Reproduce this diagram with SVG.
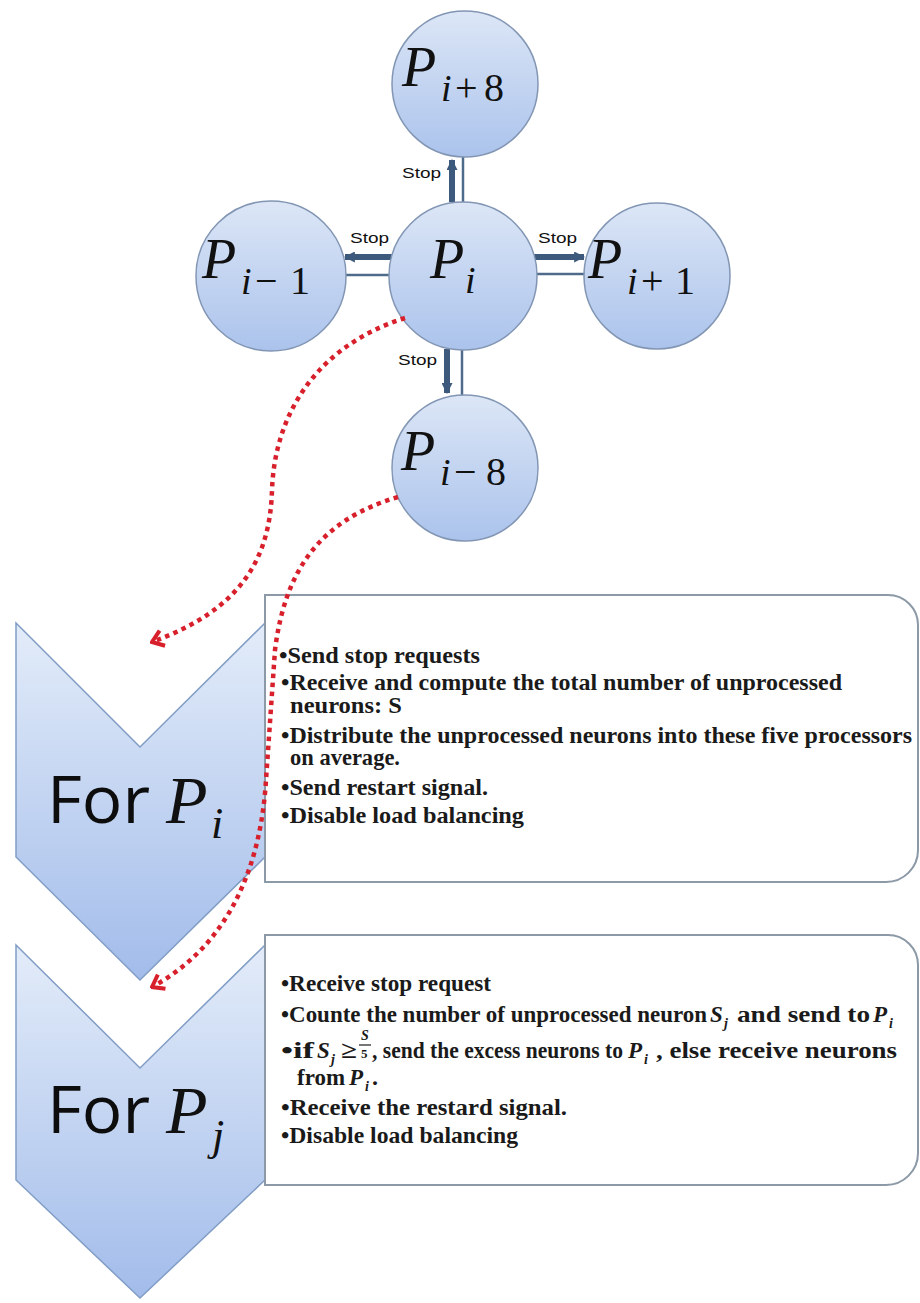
<svg xmlns="http://www.w3.org/2000/svg" width="920" height="1303" viewBox="0 0 920 1303">
<defs>
<linearGradient id="gc" x1="0" y1="0" x2="0" y2="1"><stop offset="0" stop-color="#dce6f6"/><stop offset="1" stop-color="#abc3ec"/></linearGradient>
<linearGradient id="gv" x1="0" y1="0" x2="0" y2="1"><stop offset="0" stop-color="#e3ecf9"/><stop offset="1" stop-color="#a2bcea"/></linearGradient>
<marker id="ah" viewBox="0 0 10 10" refX="9" refY="5" markerWidth="11" markerHeight="11" markerUnits="userSpaceOnUse" orient="auto"><path d="M0,0 L10,5 L0,10 z" fill="#3d5a7c"/></marker>
<marker id="rh" viewBox="-16 -12 18 24" refX="0" refY="0" markerWidth="18" markerHeight="24" markerUnits="userSpaceOnUse" orient="auto"><path d="M-11,-8 L0,0 L-11,8" fill="none" stroke="#d8202c" stroke-width="4" stroke-dasharray="none"/></marker>
</defs>
<style>
.circ{fill:url(#gc);stroke:#8296b4;stroke-width:1.5}
.chev{fill:url(#gv);stroke:#819dc5;stroke-width:1.5}
.box{fill:#fff;stroke:#8c99a6;stroke-width:2}
.m{font-family:"Liberation Serif",serif;font-style:italic;fill:#111}
.n{font-family:"Liberation Serif",serif;fill:#111}
.stop{font-family:"Liberation Sans",Arial,sans-serif;font-size:15px;fill:#111}
.thick{stroke:#3d5a7c;stroke-width:6;fill:none}
.thin{stroke:#4f6b8c;stroke-width:2.5;fill:none}
.t{font-family:"Liberation Serif",serif;font-weight:bold;font-size:24px;fill:#1a1a1a}
.tm{font-family:"Liberation Serif",serif;font-weight:bold;font-style:italic;fill:#1a1a1a}
.for{font-family:"Open Sans","Noto Sans",sans-serif;font-size:66px;fill:#0d0d0d}
.red{fill:none;stroke:#d8202c;stroke-width:4.5;stroke-dasharray:4.5 4.5}
</style>

<g id="chevron-pi">
<polygon class="chev" points="16,623 140,747 265,623 265,857 140,980 16,857"/>
<text class="for" x="47" y="823" textLength="103" lengthAdjust="spacingAndGlyphs">For</text>
<text class="m" x="166" y="823" font-size="68">P</text>
<text class="m" x="211" y="838" font-size="44">i</text>
</g>
<g id="chevron-pj">
<polygon class="chev" points="16,945 140,1068 265,945 265,1180 140,1298 16,1180"/>
<text class="for" x="47" y="1133" textLength="103" lengthAdjust="spacingAndGlyphs">For</text>
<text class="m" x="166" y="1133" font-size="68">P</text>
<text class="m" x="212" y="1150" font-size="44">j</text>
</g>

<g id="box-pi">
<path class="box" d="M265,595 H888 A30,30 0 0 1 918,625 V850 A32,32 0 0 1 886,882 H265 Z"/>
<text class="t" x="279" y="663" textLength="201" lengthAdjust="spacingAndGlyphs">•Send stop requests</text>
<text class="t" x="281" y="690" textLength="561" lengthAdjust="spacingAndGlyphs">•Receive and compute the total number of unprocessed</text>
<text class="t" x="290" y="713" textLength="112" lengthAdjust="spacingAndGlyphs">neurons: S</text>
<text class="t" x="281" y="743" textLength="631" lengthAdjust="spacingAndGlyphs">•Distribute the unprocessed neurons into these five processors</text>
<text class="t" x="290" y="765" textLength="110" lengthAdjust="spacingAndGlyphs">on average.</text>
<text class="t" x="281" y="795" textLength="207" lengthAdjust="spacingAndGlyphs">•Send restart signal.</text>
<text class="t" x="281" y="823" textLength="243" lengthAdjust="spacingAndGlyphs">•Disable load balancing</text>
</g>

<g id="box-pj">
<path class="box" d="M265,935 H888 A30,30 0 0 1 918,965 V1153 A32,32 0 0 1 886,1185 H265 Z"/>
<text class="t" x="281" y="991" textLength="210" lengthAdjust="spacingAndGlyphs">•Receive stop request</text>
<text class="t" x="281" y="1022" textLength="426" lengthAdjust="spacingAndGlyphs">•Counte the number of unprocessed neuron</text>
<text class="tm" x="710" y="1022" font-size="23">S</text>
<text class="tm" x="724" y="1028" font-size="14">j</text>
<text class="t" x="737" y="1022" textLength="133" lengthAdjust="spacingAndGlyphs">and send to</text>
<text class="tm" x="873" y="1022" font-size="23">P</text>
<text class="tm" x="889" y="1028" font-size="14">i</text>
<text class="t" x="281" y="1058" textLength="33" lengthAdjust="spacingAndGlyphs">•if</text>
<text class="tm" x="317" y="1058" font-size="23">S</text>
<text class="tm" x="331" y="1064" font-size="14">j</text>
<text class="t" x="341" y="1058" textLength="16" lengthAdjust="spacingAndGlyphs">≥</text>
<text class="tm" x="361" y="1040" font-size="14">S</text>
<line x1="359" y1="1045" x2="371" y2="1045" stroke="#1a1a1a" stroke-width="1.2"/>
<text class="t" x="361" y="1058" style="font-size:13px">5</text>
<text class="t" x="372" y="1058" textLength="251" lengthAdjust="spacingAndGlyphs">, send the excess neurons to</text>
<text class="tm" x="628" y="1058" font-size="23">P</text>
<text class="tm" x="644" y="1064" font-size="14">i</text>
<text class="t" x="656" y="1058" textLength="241" lengthAdjust="spacingAndGlyphs">, else receive neurons</text>
<text class="t" x="297" y="1085" textLength="48" lengthAdjust="spacingAndGlyphs">from</text>
<text class="tm" x="349" y="1085" font-size="23">P</text>
<text class="tm" x="365" y="1091" font-size="14">i</text>
<text class="t" x="372" y="1085">.</text>
<text class="t" x="281" y="1115" textLength="286" lengthAdjust="spacingAndGlyphs">•Receive the restard signal.</text>
<text class="t" x="281" y="1143" textLength="237" lengthAdjust="spacingAndGlyphs">•Disable load balancing</text>
</g>

<g id="connectors">
<line class="thin" x1="463" y1="156" x2="463" y2="203"/>
<line class="thick" x1="452" y1="202" x2="452" y2="160" marker-end="url(#ah)"/>
<line class="thin" x1="345" y1="275" x2="391" y2="275"/>
<line class="thick" x1="393" y1="257" x2="345" y2="257" marker-end="url(#ah)"/>
<line class="thin" x1="535" y1="274" x2="585" y2="274"/>
<line class="thick" x1="534" y1="257" x2="584" y2="257" marker-end="url(#ah)"/>
<line class="thin" x1="462" y1="349" x2="462" y2="396"/>
<line class="thick" x1="447" y1="349" x2="447" y2="393" marker-end="url(#ah)"/>
<text class="stop" x="402" y="178" textLength="39" lengthAdjust="spacingAndGlyphs">Stop</text>
<text class="stop" x="350" y="243" textLength="39" lengthAdjust="spacingAndGlyphs">Stop</text>
<text class="stop" x="538" y="243" textLength="39" lengthAdjust="spacingAndGlyphs">Stop</text>
<text class="stop" x="398" y="365" textLength="39" lengthAdjust="spacingAndGlyphs">Stop</text>
</g>

<g id="node-pi8">
<circle class="circ" cx="465" cy="84" r="73"/>
<text class="m" x="402" y="86" font-size="56">P</text>
<text class="m" x="441" y="101" font-size="38">i</text>
<text class="n" x="455" y="101" font-size="40">+</text>
<text class="n" x="484" y="101" font-size="40">8</text>
</g>
<g id="node-pim1">
<circle class="circ" cx="271" cy="276" r="75"/>
<text class="m" x="202" y="278" font-size="56">P</text>
<text class="m" x="241" y="294" font-size="38">i</text>
<text class="n" x="255" y="294" font-size="40">−</text>
<text class="n" x="290" y="294" font-size="40">1</text>
</g>
<g id="node-pi">
<circle class="circ" cx="463" cy="276" r="74"/>
<text class="m" x="430" y="278" font-size="56">P</text>
<text class="m" x="465" y="293" font-size="38">i</text>
</g>
<g id="node-pi1">
<circle class="circ" cx="657" cy="276" r="73"/>
<text class="m" x="588" y="278" font-size="56">P</text>
<text class="m" x="627" y="294" font-size="38">i</text>
<text class="n" x="641" y="294" font-size="40">+</text>
<text class="n" x="675" y="294" font-size="40">1</text>
</g>
<g id="node-pim8">
<circle class="circ" cx="465" cy="468" r="73"/>
<text class="m" x="401" y="470" font-size="56">P</text>
<text class="m" x="440" y="485" font-size="38">i</text>
<text class="n" x="454" y="485" font-size="40">−</text>
<text class="n" x="486" y="485" font-size="40">8</text>
</g>

<g id="dotted-connectors">
<path class="red" d="M405,318 C320,345 275,410 272,490 C270,560 240,610 152,642" marker-end="url(#rh)"/>
<path class="red" d="M398,497 C320,520 285,570 275,650 L266,780 C260,880 220,950 152,987" marker-end="url(#rh)"/>
</g>
</svg>
